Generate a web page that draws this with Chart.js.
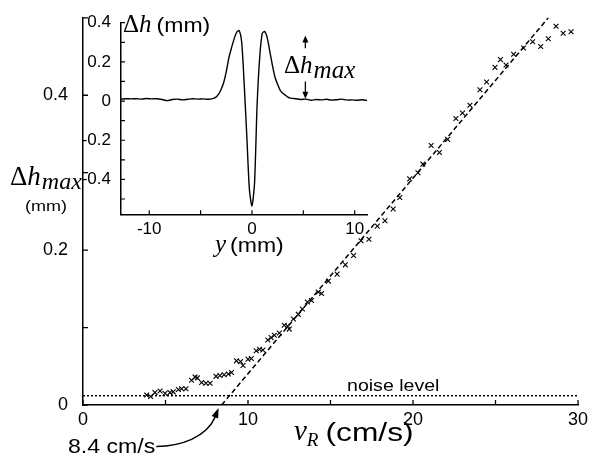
<!DOCTYPE html>
<html>
<head>
<meta charset="utf-8">
<script src="https://cdn.jsdelivr.net/npm/chart.js@4.4.1/dist/chart.umd.min.js"></script>
<style>
  html, body { margin: 0; padding: 0; background: #fff; }
  #wrap { position: relative; width: 590px; height: 458px; }
  #mainChart, #insetChart { position: absolute; left: 0; top: 0; }
</style>
</head>
<body>
<div id="wrap">
  <canvas id="mainChart" width="590" height="458"></canvas>
  <canvas id="insetChart" width="400" height="262"></canvas>
</div>
<script>
// main plot: Δh_max (mm) against v_R (cm/s)
const speedValues = [3.86, 4.10, 4.36, 4.67, 4.97, 5.27, 5.47, 5.78, 5.98, 6.24,
  6.58, 6.79, 6.93, 7.19, 7.45, 7.70, 8.06, 8.30, 8.55, 8.81,
  9.00, 9.30, 9.55, 9.70, 10.0, 10.2, 10.5, 10.7, 10.9, 11.2,
  11.4, 11.6, 11.9, 12.2, 12.4, 12.5, 12.75, 13.05, 13.3, 13.6,
  13.85, 14.26, 14.46, 14.87, 15.4, 15.9, 16.4, 16.85, 17.33, 17.84,
  18.3, 18.8, 19.2, 19.8, 20.3, 20.6, 21.1, 21.6, 22.1, 22.6,
  23.0, 23.45, 24.06, 24.46, 24.97, 25.3, 25.64, 26.1, 26.7, 27.25,
  27.74, 28.2, 28.67, 29.1, 29.58];
const hmaxValues = [0.013, 0.011, 0.016, 0.018, 0.015, 0.016, 0.017, 0.020, 0.021, 0.021,
  0.032, 0.036, 0.035, 0.029, 0.028, 0.028, 0.037, 0.038, 0.039, 0.040,
  0.042, 0.057, 0.056, 0.051, 0.059, 0.060, 0.070, 0.072, 0.071, 0.084,
  0.087, 0.090, 0.093, 0.103, 0.102, 0.098, 0.111, 0.117, 0.124, 0.133,
  0.135, 0.146, 0.144, 0.160, 0.169, 0.181, 0.193, 0.212, 0.214, 0.231,
  0.238, 0.253, 0.268, 0.292, 0.300, 0.311, 0.335, 0.326, 0.343, 0.370,
  0.377, 0.387, 0.407, 0.417, 0.436, 0.446, 0.439, 0.453, 0.461, 0.469,
  0.463, 0.473, 0.489, 0.480, 0.482];
const fitSpeed = [8.4, 28.2];
const fitHmax = [0, 0.5];
const noiseSpeed = [0, 30];
const noiseHmax = [0.012, 0.012];
const speedTicks = [0, 10, 20, 30];
const speedTickMarks = [0, 5, 10, 15, 20, 25, 30];
const hmaxTicks = [0, 0.2, 0.4];
const hmaxTickMarks = [0, 0.1, 0.2, 0.3, 0.4, 0.5];

// inset: surface profile Δh (mm) across y (mm)
const profileY = [-12.75, -12.25, -11.75, -11.25, -10.75, -10.25, -9.75, -9.25, -8.75, -8.25,
  -7.75, -7.25, -6.75, -6.25, -5.75, -5.25, -4.75, -4.25, -3.75, -3.5,
  -3.25, -3.0, -2.75, -2.5, -2.25, -2.0, -1.75, -1.5, -1.25, -1.0,
  -0.75, -0.5, -0.25, 0, 0.25, 0.5, 0.75, 1.0, 1.25, 1.5,
  1.75, 2.0, 2.25, 2.5, 2.75, 3.0, 3.25, 3.5, 3.75, 4.25,
  4.75, 5.25, 5.75, 6.25, 6.75, 7.25, 7.75, 8.25, 8.75, 9.25,
  9.75, 10.25, 10.75, 11.2];
const profileH = [0.010, 0.012, 0.011, 0.012, 0.010, 0.013, 0.011, 0.012, 0.008, 0.002,
  0.008, 0.010, 0.006, 0.009, 0.012, 0.010, 0.011, 0.009, 0.014, 0.020,
  0.035, 0.060, 0.095, 0.150, 0.220, 0.270, 0.315, 0.350, 0.360, 0.300,
  0.080, -0.180, -0.450, -0.535, -0.420, -0.020, 0.220, 0.345, 0.355, 0.320,
  0.250, 0.180, 0.120, 0.085, 0.055, 0.040, 0.030, 0.020, 0.015, 0.012,
  0.008, 0.010, 0.004, 0.008, 0.006, 0.009, 0.005, 0.007, 0.010, 0.005,
  0.006, 0.004, 0.007, 0.003];
const insetXTicks = [-10, 0, 10];
const insetXTickMarks = [-10, -5, 0, 5, 10];
const insetYTicks = [0.4, 0.2, 0, -0.2, -0.4];
const insetYTickMarks = [0.4, 0.3, 0.2, 0.1, 0, -0.1, -0.2, -0.3, -0.4, -0.5];

const SANS = "'Liberation Sans', Arial, sans-serif";
const SERIF = "'Liberation Serif', 'Times New Roman', serif";

function pairs(xs, ys) {
  return xs.map((v, i) => ({ x: v, y: ys[i] }));
}

function fmt(v) {
  return v === 0 ? '0' : (Number.isInteger(v) ? String(v) : v.toFixed(1));
}

// text helper; sx widens the glyphs a little like the original scan
function put(ctx, text, x, y, font, align, sx) {
  sx = sx || 1;
  ctx.font = font;
  ctx.textAlign = align || 'left';
  ctx.textBaseline = 'alphabetic';
  ctx.save();
  ctx.translate(x, y);
  ctx.scale(sx, 1);
  ctx.fillText(text, 0, 0);
  ctx.restore();
  return x + ctx.measureText(text).width * sx;
}

function arrowHead(ctx, tipX, tipY, fromX, fromY, len, half) {
  const a = Math.atan2(tipY - fromY, tipX - fromX);
  ctx.beginPath();
  ctx.moveTo(tipX, tipY);
  ctx.lineTo(tipX - len * Math.cos(a) + half * Math.sin(a), tipY - len * Math.sin(a) - half * Math.cos(a));
  ctx.lineTo(tipX - len * Math.cos(a) - half * Math.sin(a), tipY - len * Math.sin(a) + half * Math.cos(a));
  ctx.closePath();
  ctx.fill();
}

// small tick marks pointing into the plot area
const inwardTicks = {
  id: 'inwardTicks',
  afterDraw(chart, args, opts) {
    const { ctx, chartArea, scales } = chart;
    ctx.save();
    ctx.strokeStyle = '#000';
    ctx.lineWidth = opts.width;
    ctx.beginPath();
    opts.x.forEach(v => {
      const px = scales.x.getPixelForValue(v);
      ctx.moveTo(px, chartArea.bottom);
      ctx.lineTo(px, chartArea.bottom - opts.len);
    });
    opts.y.forEach(v => {
      const py = scales.y.getPixelForValue(v);
      ctx.moveTo(chartArea.left, py);
      ctx.lineTo(chartArea.left + opts.len, py);
    });
    ctx.stroke();
    ctx.restore();
  }
};

const mainNotes = {
  id: 'mainNotes',
  afterDraw(chart) {
    const { ctx, scales } = chart;
    ctx.save();
    ctx.fillStyle = '#000';
    ctx.strokeStyle = '#000';

    // y title
    let cx = put(ctx, 'Δ', 10, 185, '27px ' + SERIF);
    cx = put(ctx, 'h', cx, 185, 'italic 27px ' + SERIF);
    put(ctx, 'max', cx + 1, 189, 'italic 24px ' + SERIF);
    put(ctx, '(mm)', 46, 211, '15px ' + SANS, 'center', 1.2);

    // x title
    cx = put(ctx, 'v', 294, 440, 'italic 29px ' + SERIF);
    cx = put(ctx, 'R', cx, 446, 'italic 19px ' + SERIF);
    put(ctx, '(cm/s)', cx + 7, 441, '26px ' + SANS, 'left', 1.22);

    // noise level
    put(ctx, 'noise level', scales.x.getPixelForValue(18.8), 391, '17px ' + SANS, 'center', 1.15);

    // threshold speed with curved arrow
    const end = put(ctx, '8.4 cm/s', 68, 453, '21px ' + SANS, 'left', 1.1);
    const tipX = scales.x.getPixelForValue(8.4) - 3;
    const tipY = scales.y.getPixelForValue(0) + 3;
    const c2x = tipX - 12, c2y = tipY + 30;
    ctx.lineWidth = 1.5;
    ctx.beginPath();
    ctx.moveTo(end + 1, 446.5);
    ctx.bezierCurveTo(end + 25, 446, c2x, c2y, tipX - 3, tipY + 8);
    ctx.stroke();
    arrowHead(ctx, tipX, tipY, c2x, c2y, 10, 3.5);
    ctx.restore();
  }
};

const insetNotes = {
  id: 'insetNotes',
  afterDraw(chart) {
    const { ctx, scales } = chart;
    ctx.save();
    ctx.fillStyle = '#000';
    ctx.strokeStyle = '#000';

    // y title
    let cx = put(ctx, 'Δ', 123, 32, '25px ' + SERIF);
    cx = put(ctx, 'h', cx, 32, 'italic 25px ' + SERIF);
    put(ctx, '(mm)', cx + 5, 32, '20px ' + SANS, 'left', 1.15);

    // x title
    cx = put(ctx, 'y', 215, 252, 'italic 25px ' + SERIF);
    put(ctx, '(mm)', cx + 4, 252, '20px ' + SANS, 'left', 1.15);

    // Δh_max label with arrows
    cx = put(ctx, 'Δ', 284, 73, '25px ' + SERIF);
    cx = put(ctx, 'h', cx, 73, 'italic 25px ' + SERIF);
    put(ctx, 'max', cx + 1, 78, 'italic 25px ' + SERIF);

    const ax = scales.x.getPixelForValue(5.2);
    const upFrom = scales.y.getPixelForValue(0.27), upTip = scales.y.getPixelForValue(0.335);
    const dnFrom = scales.y.getPixelForValue(0.10), dnTip = scales.y.getPixelForValue(0.012);
    ctx.lineWidth = 1.3;
    ctx.beginPath();
    ctx.moveTo(ax, upFrom); ctx.lineTo(ax, upTip + 5);
    ctx.moveTo(ax, dnFrom); ctx.lineTo(ax, dnTip - 5);
    ctx.stroke();
    arrowHead(ctx, ax, upTip, ax, upFrom, 7, 3);
    arrowHead(ctx, ax, dnTip, ax, dnFrom, 7, 3);
    ctx.restore();
  }
};

function axis(min, max, tickValues, size, pad, fitSize, horizontal) {
  return {
    type: 'linear',
    min: min,
    max: max,
    afterBuildTicks: s => { s.ticks = tickValues.map(v => ({ value: v })); },
    afterFit: s => { if (horizontal) s.height = fitSize; else s.width = fitSize; },
    grid: { display: false },
    border: { display: true, color: '#000', width: 1.5 },
    ticks: {
      color: '#000',
      font: { family: SANS, size: size },
      padding: pad,
      maxRotation: 0,
      autoSkip: false,
      callback: v => fmt(v)
    }
  };
}

new Chart(document.getElementById('mainChart'), {
  type: 'scatter',
  data: {
    datasets: [
      {
        data: pairs(speedValues, hmaxValues),
        pointStyle: 'crossRot',
        pointRadius: 3.4,
        borderColor: '#000',
        borderWidth: 1.1,
        showLine: false
      },
      {
        data: pairs(fitSpeed, fitHmax),
        showLine: true,
        borderColor: '#000',
        borderWidth: 1.5,
        borderDash: [5, 3],
        pointRadius: 0
      },
      {
        data: pairs(noiseSpeed, noiseHmax),
        showLine: true,
        borderColor: '#000',
        borderWidth: 1.5,
        borderDash: [2, 2],
        pointRadius: 0
      }
    ]
  },
  options: {
    responsive: false,
    animation: false,
    events: [],
    layout: { padding: { top: 15, right: 12, left: 0, bottom: 0 } },
    plugins: {
      legend: { display: false },
      tooltip: { enabled: false },
      inwardTicks: { x: speedTickMarks, y: hmaxTickMarks, len: 5, width: 1.3 }
    },
    scales: {
      x: axis(0, 30, speedTicks, 18, -4, 53, true),
      y: axis(0, 0.5, hmaxTicks, 18, 7, 83, false)
    }
  },
  plugins: [inwardTicks, mainNotes]
});

new Chart(document.getElementById('insetChart'), {
  type: 'scatter',
  data: {
    datasets: [{
      data: pairs(profileY, profileH),
      showLine: true,
      borderColor: '#000',
      borderWidth: 1.4,
      pointRadius: 0,
      tension: 0.25
    }]
  },
  options: {
    responsive: false,
    animation: false,
    events: [],
    layout: { padding: { top: 22.7, right: 33, left: 0, bottom: 0 } },
    plugins: {
      legend: { display: false },
      tooltip: { enabled: false },
      inwardTicks: { x: insetXTickMarks, y: insetYTickMarks, len: 4, width: 1.2 }
    },
    scales: {
      x: axis(-12.75, 11.2, insetXTicks, 17, -3, 47.7, true),
      y: axis(-0.578, 0.4, insetYTicks, 17, 2, 121, false)
    }
  },
  plugins: [inwardTicks, insetNotes]
});
</script>
</body>
</html>
